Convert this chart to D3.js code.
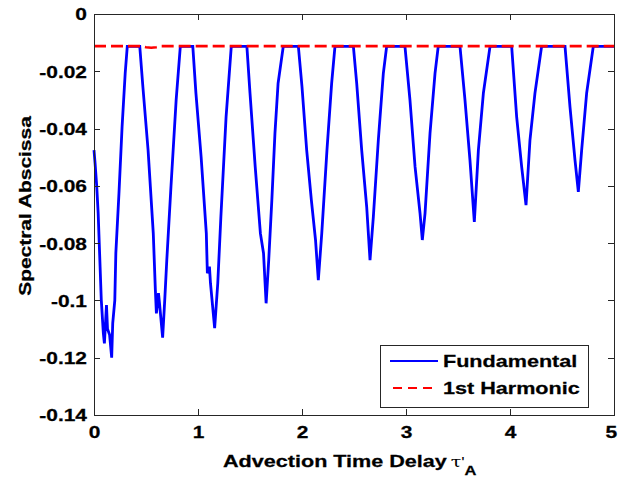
<!DOCTYPE html>
<html>
<head>
<meta charset="utf-8">
<script src="https://cdn.jsdelivr.net/npm/d3@7/dist/d3.min.js"></script>
<style>
  html, body { margin: 0; padding: 0; background: #fff; }
  svg { display: block; }
  text { font-family: "Liberation Sans", Arial, Helvetica, sans-serif; font-weight: bold; fill: #000; stroke: #000; stroke-width: 0.25px; }
</style>
</head>
<body>
<svg id="chart" width="618" height="479"></svg>
<script>
// ---- data ----
const tauFundamental = [0, 0.01, 0.026, 0.04, 0.07, 0.09, 0.1, 0.12, 0.13, 0.15, 0.17, 0.18, 0.2, 0.21, 0.24, 0.27, 0.3, 0.32,
  0.44, 0.47, 0.52, 0.57, 0.59, 0.6, 0.62, 0.63, 0.66, 0.68, 0.7, 0.74, 0.79, 0.83,
  0.95, 0.98, 1.03, 1.08, 1.09, 1.11, 1.12, 1.16, 1.19, 1.22, 1.27, 1.32,
  1.47, 1.5, 1.55, 1.6, 1.63, 1.645, 1.655, 1.68, 1.71, 1.74, 1.77, 1.82,
  1.965, 2.0, 2.045, 2.09, 2.13, 2.157, 2.19, 2.24, 2.285, 2.317,
  2.494, 2.526, 2.574, 2.622, 2.654, 2.686, 2.734, 2.782, 2.814,
  2.99, 3.038, 3.087, 3.135, 3.157, 3.183, 3.231, 3.279, 3.31,
  3.519, 3.567, 3.615, 3.657, 3.696, 3.744, 3.808,
  4.016, 4.064, 4.112, 4.154, 4.192, 4.24, 4.304,
  4.529, 4.577, 4.625, 4.657, 4.689, 4.737, 4.801, 5.0];
const specFundamental = [-0.0475, -0.052, -0.060, -0.0695, -0.0998, -0.1115, -0.115, -0.1016, -0.110, -0.112, -0.120, -0.108, -0.100, -0.0835, -0.0626, -0.0394, -0.0207, -0.0113,
  -0.0113, -0.0254, -0.0475, -0.0766, -0.0963, -0.1045, -0.0975, -0.101, -0.113, -0.100, -0.0859, -0.0603, -0.030, -0.0113,
  -0.0113, -0.0276, -0.0499, -0.0766, -0.0905, -0.0882, -0.094, -0.1097, -0.094, -0.0708, -0.0359, -0.0113,
  -0.0113, -0.0276, -0.0533, -0.0766, -0.0835, -0.094, -0.101, -0.0859, -0.065, -0.0416, -0.0242, -0.0113,
  -0.0113, -0.0254, -0.0475, -0.065, -0.0789, -0.0929, -0.0766, -0.0475, -0.0242, -0.0113,
  -0.0113, -0.0242, -0.0475, -0.0673, -0.0859, -0.0708, -0.044, -0.0207, -0.0113,
  -0.0113, -0.030, -0.0533, -0.0696, -0.0789, -0.0696, -0.0416, -0.0207, -0.0113,
  -0.0113, -0.030, -0.051, -0.0726, -0.0475, -0.0276, -0.0113,
  -0.0113, -0.0359, -0.0533, -0.0667, -0.044, -0.0276, -0.0113,
  -0.0113, -0.0325, -0.051, -0.0621, -0.0475, -0.0276, -0.0113, -0.0113];

const tauHarmonic = [0, 0.45, 0.5, 0.55, 0.6, 0.65, 5.0];
const specHarmonic = [-0.0112, -0.0112, -0.0116, -0.0118, -0.0116, -0.0112, -0.0112];

const xTicks = [0, 1, 2, 3, 4, 5];
const xTickLabels = ["0", "1", "2", "3", "4", "5"];
const yTicks = [0, -0.02, -0.04, -0.06, -0.08, -0.1, -0.12, -0.14];
const yTickLabels = ["0", "-0.02", "-0.04", "-0.06", "-0.08", "-0.1", "-0.12", "-0.14"];
const seriesNames = ["Fundamental", "1st Harmonic"];
const seriesColors = ["#0000ff", "#ff0000"];

// ---- layout ----
const margin = { left: 94, top: 14, right: 4, bottom: 64 };
const W = 618, H = 479;
const iw = W - margin.left - margin.right;   // 520
const ih = H - margin.top - margin.bottom;   // 401
const SX = 1.27; // horizontal glyph stretch of the reference font

const svg = d3.select("#chart");
const g = svg.append("g").attr("transform", `translate(${margin.left},${margin.top})`);

const xScale = d3.scaleLinear().domain([0, 5]).range([0, iw]);
const yScale = d3.scaleLinear().domain([-0.14, 0]).range([ih, 0]);

g.append("rect").attr("width", iw).attr("height", ih).attr("fill", "#fff");

// ---- lines ----
const lineF = d3.line().x((d, i) => xScale(tauFundamental[i])).y((d, i) => yScale(specFundamental[i]));
const lineH = d3.line().x((d, i) => xScale(tauHarmonic[i])).y((d, i) => yScale(specHarmonic[i]));

g.append("path").datum(specFundamental).attr("d", lineF)
  .attr("fill", "none").attr("stroke", seriesColors[0]).attr("stroke-width", 2.8)
  .attr("stroke-linejoin", "miter").attr("stroke-miterlimit", 3);
g.append("path").datum(specHarmonic).attr("d", lineH)
  .attr("fill", "none").attr("stroke", seriesColors[1]).attr("stroke-width", 2.6)
  .attr("stroke-dasharray", "12,5");

// ---- axes (inward ticks on all four sides) ----
const axisColor = "#262626";
function styleAxis(sel) {
  sel.select(".domain").remove();
  sel.selectAll("line").attr("stroke", axisColor).attr("stroke-width", 1).attr("shape-rendering", "crispEdges");
}
const axBottom = g.append("g").attr("transform", `translate(0,${ih})`)
  .call(d3.axisBottom(xScale).tickValues(xTicks).tickSize(-6).tickPadding(11)
    .tickFormat((d, i) => xTickLabels[i]));
styleAxis(axBottom);
axBottom.selectAll("text").attr("font-size", 16.5).attr("fill", "#000")
  .attr("font-family", "Liberation Sans, Arial, sans-serif").attr("font-weight", "bold")
  .attr("x", (d, i) => i === xTicks.length - 1 ? -2.5 : 0)
  .attr("transform", `scale(${SX},1)`);

const axTop = g.append("g")
  .call(d3.axisTop(xScale).tickValues(xTicks).tickSize(-6).tickFormat(""));
styleAxis(axTop);

const axLeft = g.append("g")
  .call(d3.axisLeft(yScale).tickValues(yTicks).tickSize(-6).tickPadding(7 / SX)
    .tickFormat((d, i) => yTickLabels[i]));
styleAxis(axLeft);
axLeft.selectAll("text").attr("font-size", 16.5).attr("fill", "#000")
  .attr("font-family", "Liberation Sans, Arial, sans-serif").attr("font-weight", "bold")
  .attr("dy", "0.36em")
  .attr("transform", `scale(${SX},1)`);

const axRight = g.append("g").attr("transform", `translate(${iw},0)`)
  .call(d3.axisRight(yScale).tickValues(yTicks).tickSize(-6).tickFormat(""));
styleAxis(axRight);

g.append("rect").attr("width", iw).attr("height", ih).attr("fill", "none")
  .attr("stroke", axisColor).attr("stroke-width", 1).attr("shape-rendering", "crispEdges");

// ---- axis titles ----
svg.append("text")
  .attr("transform", `translate(31,206) rotate(-90) scale(${SX},1)`)
  .attr("text-anchor", "middle").attr("font-size", 16.5)
  .text("Spectral Abscissa");

const xl = svg.append("text")
  .attr("transform", `translate(223,467) scale(${SX},1)`)
  .attr("text-anchor", "start").attr("font-size", 17);
xl.append("tspan").text("Advection Time Delay");
xl.append("tspan").attr("dx", 3).attr("font-weight", "normal").attr("font-family", "DejaVu Serif, serif")
  .attr("font-size", 15).attr("stroke-width", 0).text("\u03c4");
xl.append("tspan").attr("font-weight", "normal").attr("font-size", 14).attr("stroke-width", 0).text("'");
xl.append("tspan").attr("dy", 8).attr("font-size", 13).text("A");

// ---- legend ----
const lg = svg.append("g").attr("transform", "translate(380,345)");
lg.append("rect").attr("width", 208).attr("height", 62).attr("fill", "#fff")
  .attr("stroke", axisColor).attr("stroke-width", 1).attr("shape-rendering", "crispEdges");
seriesNames.forEach((name, i) => {
  const yy = 16 + i * 27;
  lg.append("line").attr("x1", i === 0 ? 10 : 13).attr("x2", 58).attr("y1", yy).attr("y2", yy)
    .attr("stroke", seriesColors[i]).attr("stroke-width", 2.2)
    .attr("stroke-dasharray", i === 1 ? "9,6" : null);
  lg.append("text").attr("transform", `translate(63,${yy + 6}) scale(${SX},1)`)
    .attr("font-size", 17).text(name);
});
</script>
</body>
</html>
